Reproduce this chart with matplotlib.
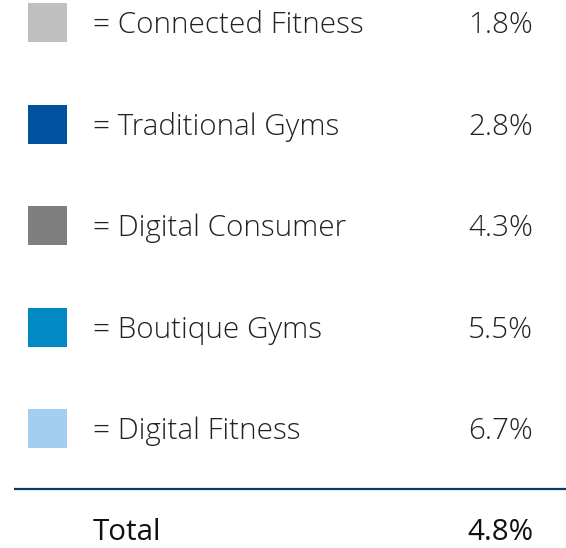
import matplotlib.pyplot as plt
from matplotlib.patches import Rectangle

labels = ["Connected Fitness", "Traditional Gyms", "Digital Consumer", "Boutique Gyms", "Digital Fitness"]
values = ["1.8%", "2.8%", "4.3%", "5.5%", "6.7%"]
colors = ["#bfbfbf", "#00519e", "#7f7f7f", "#0089c5", "#a3cdf1"]
total_label = "Total"
total_value = "4.8%"

plt.rcParams['font.family'] = ['Open Sans', 'DejaVu Sans']

fig = plt.figure(figsize=(5.66, 5.48), dpi=100)
ax = fig.add_axes([0, 0, 1, 1])
ax.set_xlim(0, 566)
ax.set_ylim(548, 0)
ax.axis('off')

fs = 21.3
txt = "#222222"
for i, (lab, val, col) in enumerate(zip(labels, values, colors)):
    yc = 22.5 + i * 101.5
    ax.add_patch(Rectangle((28, yc - 19.5), 39, 39, facecolor=col, edgecolor='none'))
    ax.text(93, yc + 3, "= " + lab, fontsize=fs, fontweight=300, color=txt, va='center', ha='left')
    ax.text(533, yc + 3, val, fontsize=fs, fontweight=300, color=txt, va='center', ha='right')

ax.plot([14, 566], [489, 489], color="#0b3b5e", lw=1.6, solid_capstyle='butt')
ax.text(93, 532, total_label, fontsize=fs, fontweight='normal', color="#111111", va='center', ha='left')
ax.text(533, 532, total_value, fontsize=fs, fontweight='normal', color="#111111", va='center', ha='right')

fig.savefig("out.png", dpi=100, facecolor='white')
